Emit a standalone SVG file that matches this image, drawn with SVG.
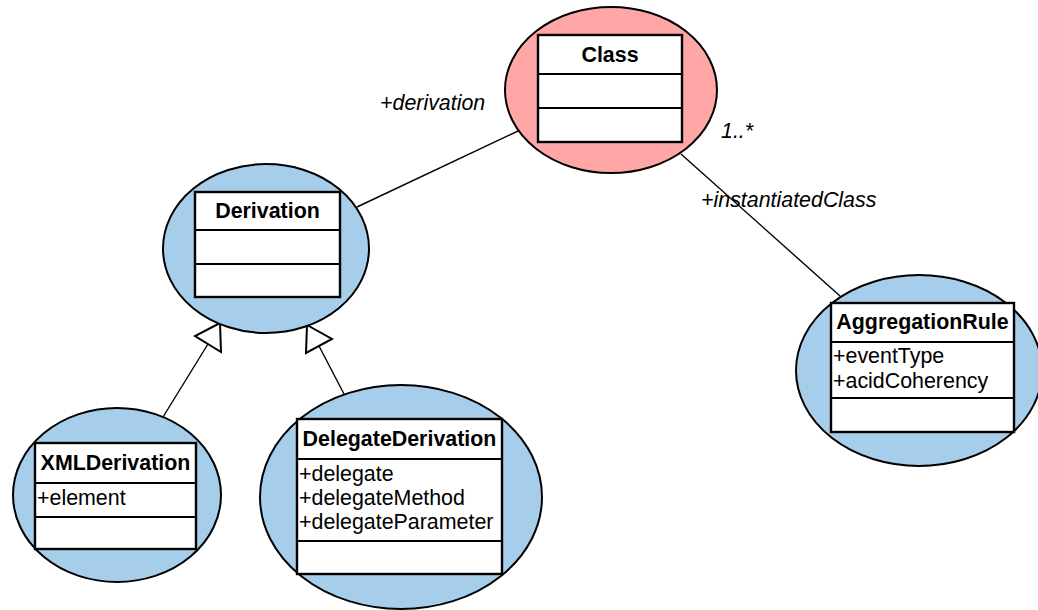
<svg xmlns="http://www.w3.org/2000/svg" width="1038" height="610" viewBox="0 0 1038 610">
  <style>
    .bubble { stroke: #000; stroke-width: 2; }
    .pink { fill: #ffa6a6; }
    .blue { fill: #a6cdea; }
    .box { fill: #fff; stroke: #000; stroke-width: 2.4; }
    .div { stroke: #000; stroke-width: 2.2; fill: none; }
    .title { font-family: "Liberation Sans", Arial, sans-serif; font-size: 21.4px; font-weight: bold; text-anchor: middle; fill: #000; }
    .attr { font-family: "Liberation Sans", Arial, sans-serif; font-size: 21.4px; fill: #000; }
    .role { font-family: "Liberation Sans", Arial, sans-serif; font-size: 21.4px; font-style: italic; fill: #000; }
    .edge { stroke: #000; stroke-width: 1.4; fill: none; }
    .gen { fill: #fff; stroke: #000; stroke-width: 2; stroke-linejoin: miter; }
  </style>

  <rect width="1038" height="610" fill="#fff"/>

  <!-- associations and generalizations -->
  <g id="connectors">
    <line class="edge" x1="518" y1="131" x2="357" y2="207"/>
    <line class="edge" x1="681" y1="154" x2="840" y2="296"/>
    <line class="edge" x1="163" y1="417" x2="208" y2="344"/>
    <polygon class="gen" points="220,323 195,336 221,352"/>
    <line class="edge" x1="344" y1="394" x2="319" y2="346"/>
    <polygon class="gen" points="307,325 332,339 306,353"/>
  </g>

  <!-- association end labels -->
  <g id="labels">
    <text class="role" x="380" y="110">+derivation</text>
    <text class="role" x="721" y="138">1..*</text>
    <text class="role" x="701" y="207">+instantiatedClass</text>
  </g>

  <g id="class">
    <ellipse class="bubble pink" cx="611" cy="90" rx="106" ry="83"/>
    <rect class="box" x="538" y="35" width="144" height="107"/>
    <line class="div" x1="538" y1="74" x2="682" y2="74"/>
    <line class="div" x1="538" y1="108" x2="682" y2="108"/>
    <text class="title" x="610" y="62">Class</text>
  </g>

  <g id="derivation">
    <ellipse class="bubble blue" cx="266" cy="248.5" rx="103" ry="84.5"/>
    <rect class="box" x="195" y="192" width="145" height="105"/>
    <line class="div" x1="195" y1="230" x2="340" y2="230"/>
    <line class="div" x1="195" y1="264" x2="340" y2="264"/>
    <text class="title" x="267.5" y="218">Derivation</text>
  </g>

  <g id="xml-derivation">
    <ellipse class="bubble blue" cx="117" cy="495" rx="104" ry="87"/>
    <rect class="box" x="35" y="443" width="161" height="106"/>
    <line class="div" x1="35" y1="483" x2="196" y2="483"/>
    <line class="div" x1="35" y1="517" x2="196" y2="517"/>
    <text class="title" x="115.5" y="470">XMLDerivation</text>
    <text class="attr" x="37" y="505">+element</text>
  </g>

  <g id="delegate-derivation">
    <ellipse class="bubble blue" cx="401" cy="497" rx="141" ry="112"/>
    <rect class="box" x="297" y="419" width="205" height="155"/>
    <line class="div" x1="297" y1="459" x2="502" y2="459"/>
    <line class="div" x1="297" y1="541" x2="502" y2="541"/>
    <text class="title" x="399.5" y="446">DelegateDerivation</text>
    <text class="attr" x="299" y="481">+delegate</text>
    <text class="attr" x="299" y="505">+delegateMethod</text>
    <text class="attr" x="299" y="529">+delegateParameter</text>
  </g>

  <g id="aggregation-rule">
    <ellipse class="bubble blue" cx="919" cy="370.5" rx="123" ry="95.5"/>
    <rect class="box" x="831" y="303" width="183" height="129"/>
    <line class="div" x1="831" y1="342" x2="1014" y2="342"/>
    <line class="div" x1="831" y1="398" x2="1014" y2="398"/>
    <text class="title" x="922.5" y="329">AggregationRule</text>
    <text class="attr" x="833" y="363">+eventType</text>
    <text class="attr" x="833" y="388">+acidCoherency</text>
  </g>
</svg>
